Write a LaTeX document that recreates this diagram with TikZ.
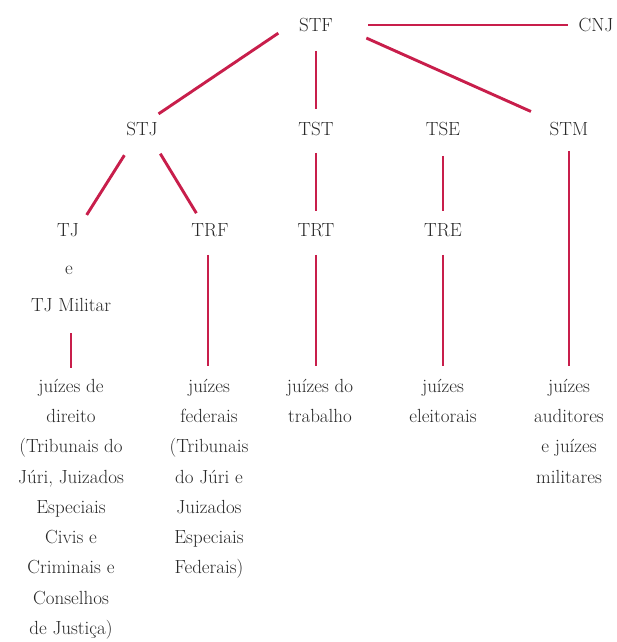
\documentclass[tikz,border=0pt]{standalone}
\definecolor{linkred}{RGB}{200,30,75}
\definecolor{txtgray}{RGB}{40,40,40}
\begin{document}
\begin{tikzpicture}[x=1pt,y=-1pt,
  org/.style={inner sep=4pt,text=txtgray,font=\fontsize{19}{30.25}\selectfont},
  judges/.style={org,anchor=north,align=center},
  link/.style={draw=linkred,line width=2.9pt}]
\useasboundingbox (0,0) rectangle (616,642);
\node[org] (stf) at (316,25) {STF};
\node[org] (cnj) at (596,25) {CNJ};
\node[org] (stj) at (142,129) {STJ};
\node[org] (tst) at (316,129) {TST};
\node[org] (tse) at (443,129) {TSE};
\node[org] (stm) at (569,129) {STM};
\node[org] (tj) at (68,230) {TJ};
\node[org] (tje) at (69,270) {e};
\node[org] (tjmil) at (71,305.5) {TJ Militar};
\node[org] (trf) at (210,230) {TRF};
\node[org] (trt) at (316,230) {TRT};
\node[org] (tre) at (443,230) {TRE};
\node[judges] (jdir) at (71,375) {juízes de\\direito\\(Tribunais do\\Júri, Juizados\\Especiais\\Civis e\\Criminais e\\Conselhos\\de Justiça)};
\node[judges] (jfed) at (209,375) {juízes\\federais\\(Tribunais\\do Júri e\\Juizados\\Especiais\\Federais)};
\node[judges] (jtrab) at (320,375) {juízes do\\trabalho};
\node[judges] (jelei) at (443,375) {juízes\\eleitorais};
\node[judges] (jmil) at (569,375) {juízes\\auditores\\e juízes\\militares};

\path[link,shorten <=31pt,shorten >=6pt] (stf.east) -- (cnj.west);
\path[link,shorten <=20pt,shorten >=2pt] ([yshift=3pt]stf.west) -- ([xshift=-5pt,yshift=3pt]stj.north east);
\path[link,shorten <=15pt,shorten >=9pt] (stf.south) -- (tst.north);
\path[link,shorten <=32pt,shorten >=16pt] (stf.east) -- (stm.north west);

\path[link,shorten <=18pt,shorten >=5pt] ([xshift=-8pt]stj.south) -- ([xshift=16pt]tj.north);
\path[link,shorten <=16pt,shorten >=7pt] ([xshift=10pt]stj.south) -- ([xshift=-10pt]trf.north);
\path[link,shorten <=13pt,shorten >=8pt] (tst.south) -- (trt.north);
\path[link,shorten <=16pt,shorten >=8pt] (tse.south) -- (tre.north);

\path[link,shorten <=17pt,shorten >=7pt] (tjmil.south) -- (jdir.north);
\path[link,shorten <=14pt,shorten >=9pt] ([xshift=-2pt]trf.south) -- ([xshift=-1pt]jfed.north);
\path[link,shorten <=14pt,shorten >=9pt] (trt.south) -- ([xshift=-4pt]jtrab.north);
\path[link,shorten <=14pt,shorten >=9pt] (tre.south) -- (jelei.north);
\path[link,shorten <=11pt,shorten >=9pt] (stm.south) -- (jmil.north);
\end{tikzpicture}
\end{document}
